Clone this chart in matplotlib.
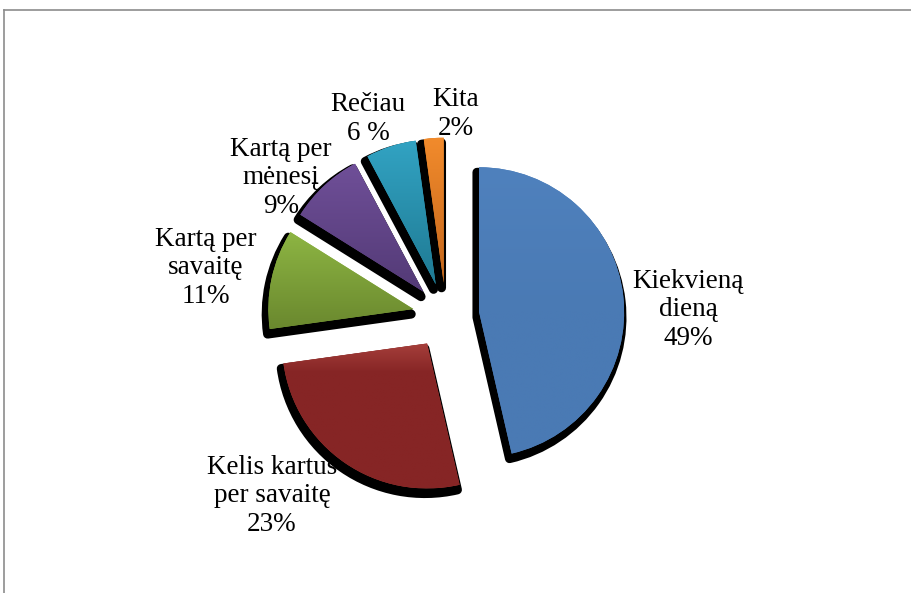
import numpy as np
import matplotlib.pyplot as plt
from matplotlib.colors import to_rgb
from matplotlib.patches import Wedge
from matplotlib.lines import Line2D

plt.rcParams['font.family'] = ['Liberation Serif', 'DejaVu Serif']

labels = ['Kiekvieną\ndieną\n49%', 'Kelis kartus\nper savaitę\n23%',
          'Kartą per\nsavaitę\n11%', 'Kartą per\nmėnesį\n9%',
          'Rečiau\n6 %', 'Kita\n2%']
shares = [46.4, 26.4, 11.1, 8.3, 5.6, 2.2]

top_colors = ['#4F81BD', '#A63F3B', '#8DB543', '#6F4F98', '#32A3C3', '#F28B2C']
bottom_colors = ['#4A7AB4', '#862525', '#6A882E', '#533A76', '#1F7A93', '#C4661B']
ramp = [0.5, 0.2, 1.0, 1.0, 1.0, 1.0]   # fraction of height over which the gradient runs

# label centres in pixels (x from left, y from top)
label_px = [(688, 310), (272, 496), (206, 268), (281, 178), (368, 119), (456, 114)]

W, H = 911, 593
R = 145.0            # pie radius in px
CX, CY = 446, 316    # pie centre in px

def to_data(px, py):
    return (px - CX) / R, (CY - py) / R

fig = plt.figure(figsize=(W / 100, H / 100), dpi=100)
ax = fig.add_axes([0, 0, 1, 1])

wedges, _ = ax.pie(shares, startangle=90, counterclock=False,
                   explode=[0.23] * len(shares), radius=1.0,
                   wedgeprops=dict(linewidth=0))

for w, c_top, c_bot, rp in zip(wedges, top_colors, bottom_colors, ramp):
    cx, cy = w.center
    # black drop shadow with rounded corners
    sh = Wedge((cx - 0.015, cy - 0.035), w.r, w.theta1, w.theta2,
               facecolor='black', edgecolor='black', linewidth=6.5,
               joinstyle='round', zorder=0.8)
    ax.add_patch(sh)
    w.set_zorder(1)
    w.set_facecolor(c_top)
    # vertical gradient clipped to the wedge
    t = np.radians(np.linspace(w.theta1, w.theta2, 60))
    xs = np.concatenate([[cx], cx + w.r * np.cos(t)])
    ys = np.concatenate([[cy], cy + w.r * np.sin(t)])
    n = 200
    f = np.clip(np.linspace(0, 1, n) / rp, 0, 1)
    top = np.array(to_rgb(c_top))
    bot = np.array(to_rgb(c_bot))
    grad = top[None, :] * (1 - f[:, None]) + bot[None, :] * f[:, None]
    im = ax.imshow(grad[:, None, :], extent=[xs.min(), xs.max(), ys.min(), ys.max()],
                   origin='upper', aspect='auto', zorder=1.1, interpolation='bilinear')
    im.set_clip_path(w)

for lab, (px, py) in zip(labels, label_px):
    x, y = to_data(px, py)
    ax.text(x, y, lab, ha='center', va='center', fontsize=19.5,
            linespacing=1.2, zorder=0.5, color='black')

ax.set_xlim(-CX / R, (W - CX) / R)
ax.set_ylim((CY - H) / R, CY / R)
ax.set_aspect('auto')
ax.axis('off')

# chart frame (only top and left edges are visible in the crop)
fig.add_artist(Line2D([4 / W, 1], [1 - 10 / H, 1 - 10 / H], color='#8c8c8c', lw=1.2))
fig.add_artist(Line2D([4 / W, 4 / W], [0, 1 - 10 / H], color='#8c8c8c', lw=1.2))

fig.savefig('out.png', dpi=100)
